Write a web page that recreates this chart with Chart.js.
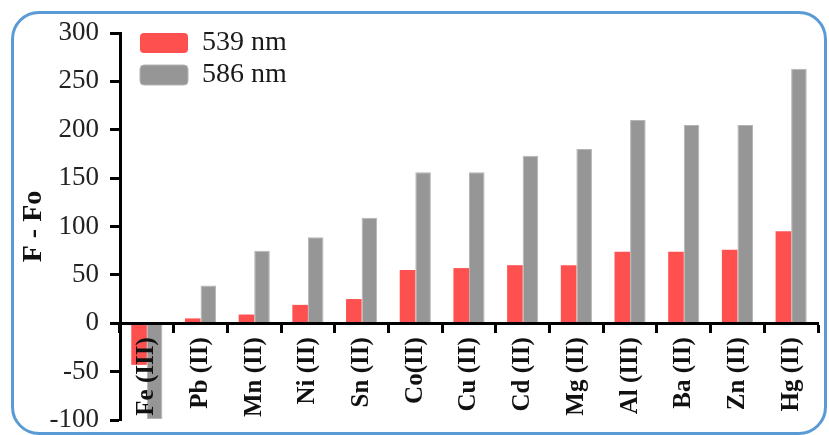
<!DOCTYPE html>
<html>
<head>
<meta charset="utf-8">
<script src="https://cdn.jsdelivr.net/npm/chart.js"></script>
<style>
  html, body { margin: 0; padding: 0; background: #fff; }
  #wrap { position: relative; width: 829px; height: 435px; overflow: hidden; }
  #frame {
    position: absolute; left: 11px; top: 11px; width: 810px; height: 418px;
    border: 3px solid #5b9bd5; border-radius: 28px; pointer-events: none;
  }
  #chart { position: absolute; left: 0; top: 0; }
</style>
</head>
<body>
<div id="wrap">
  <canvas id="chart" width="829" height="435"></canvas>
  <div id="frame"></div>
</div>
<script>
'use strict'

// ions on the x axis
var ions = ['Fe (III)', 'Pb (II)', 'Mn (II)', 'Ni (II)', 'Sn (II)', 'Co(II)', 'Cu (II)',
  'Cd (II)', 'Mg (II)', 'Al (III)', 'Ba (II)', 'Zn (II)', 'Hg (II)']

// F - Fo
var em539 = [-43, 5, 9, 19, 25, 55, 57, 60, 60, 74, 74, 76, 95]
var em586 = [-99, 39, 75, 89, 109, 156, 156, 173, 180, 210, 205, 205, 263]

var yMin = -100
var yMax = 300
var yStep = 25

var serif = "'Liberation Serif', 'Times New Roman', serif"

// legend.update() resets top to 0, so pin it to the plot's top-left corner
var legendNudge = {
  id: 'legendNudge',
  afterLayout: function (chart) {
    var lg = chart.legend
    if (!lg) return
    var h = lg.bottom - lg.top
    lg.top = chart.chartArea.top - 8
    lg.bottom = lg.top + h
    lg.left = chart.chartArea.left + 16
  }
}

var ctx = document.getElementById('chart').getContext('2d')

var chart = new Chart(ctx, {
  type: 'bar',
  data: {
    labels: ions,
    datasets: [
      {
        label: '539 nm',
        data: em539,
        backgroundColor: '#ff5050',
        borderWidth: 0,
        categoryPercentage: 0.58,
        barPercentage: 1.0
      },
      {
        label: '586 nm',
        data: em586,
        backgroundColor: '#969696',
        borderColor: '#b4b4b4',
        borderWidth: 1,
        categoryPercentage: 0.58,
        barPercentage: 1.0
      }
    ]
  },
  options: {
    responsive: false,
    animation: false,
    layout: {
      padding: { left: 14, right: 11, top: 33, bottom: 15 }
    },
    plugins: {
      legend: {
        position: 'chartArea',
        align: 'start',
        labels: {
          boxWidth: 48,
          boxHeight: 20,
          useBorderRadius: true,
          borderRadius: 4,
          padding: 4,
          color: '#1a1a1a',
          font: { family: serif, size: 28 }
        }
      },
      tooltip: { enabled: false }
    },
    scales: {
      x: {
        // axis sits on the zero line, labels hang below it
        position: { y: 0 },
        afterFit: function (scale) {
          scale.height = 0
          scale.paddingTop = 0
          scale.paddingBottom = 0
        },
        grid: {
          display: true,
          drawOnChartArea: false,
          offset: true,
          tickLength: 8,
          tickWidth: 3,
          tickColor: '#000'
        },
        border: { display: true, color: '#000', width: 3, z: 1 },
        ticks: {
          z: 1,
          autoSkip: false,
          minRotation: 90,
          maxRotation: 90,
          padding: 6,
          color: '#111',
          font: { family: serif, size: 25, weight: 'bold' }
        }
      },
      y: {
        min: yMin,
        max: yMax,
        afterFit: function (scale) {
          scale.width = 106
          scale.paddingTop = 0
          scale.paddingBottom = 0
        },
        grid: {
          display: true,
          drawOnChartArea: false,
          tickLength: 10,
          tickWidth: 3,
          tickColor: '#000'
        },
        border: { display: true, color: '#000', width: 3 },
        ticks: {
          stepSize: yStep,
          padding: 11,
          color: '#222',
          font: { family: serif, size: 27 },
          callback: function (v) { return v % 50 === 0 ? String(v) : '' }
        },
        title: {
          display: true,
          text: 'F - Fo',
          color: '#111',
          padding: { top: 3, bottom: 0 },
          font: { family: serif, size: 28, weight: 'bold' }
        }
      }
    }
  },
  plugins: [legendNudge]
})
</script>
</body>
</html>
